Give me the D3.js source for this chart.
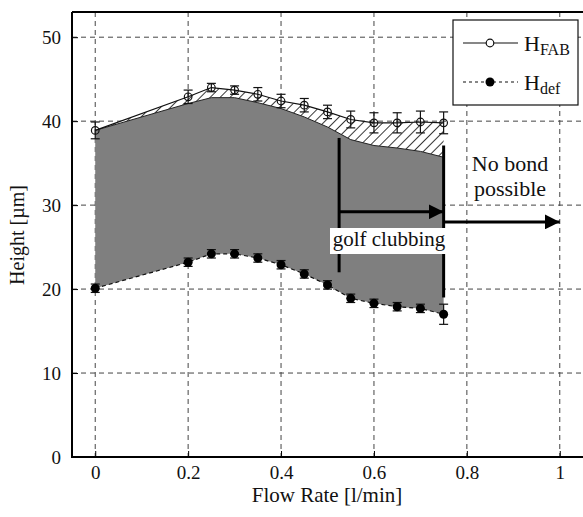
<!DOCTYPE html>
<html><head><meta charset="utf-8">
<script src="https://cdn.jsdelivr.net/npm/d3@7"></script>
<style>body{margin:0;background:#fff}svg{display:block}</style>
</head><body><svg id="c" width="583" height="517" style="font-family:'Liberation Serif','Times New Roman',Times,'DejaVu Serif',serif"></svg>
<script>
const flow = [0, 0.2, 0.25, 0.3, 0.35, 0.4, 0.45, 0.5, 0.55, 0.6, 0.65, 0.7, 0.75];
const hFab = [38.9, 42.9, 44.0, 43.7, 43.2, 42.4, 41.9, 41.1, 40.2, 39.8, 39.8, 39.9, 39.8];
const hFabErr = [1.0, 0.8, 0.5, 0.5, 0.8, 0.8, 0.8, 0.8, 1.0, 1.2, 1.2, 1.3, 1.3];
const hDef = [20.1, 23.2, 24.2, 24.2, 23.7, 22.9, 21.8, 20.5, 18.9, 18.3, 17.9, 17.7, 17.0];
const hDefErr = [0.5, 0.5, 0.5, 0.5, 0.5, 0.5, 0.5, 0.5, 0.5, 0.5, 0.5, 0.5, 1.2];
const grayTop = [38.9, 42.1, 42.8, 42.8, 42.2, 41.5, 40.5, 39.3, 37.8, 37.1, 36.8, 36.4, 35.7];
const xTicks = [0, 0.2, 0.4, 0.6, 0.8, 1];
const xTickLabels = ["0", "0.2", "0.4", "0.6", "0.8", "1"];
const yTicks = [0, 10, 20, 30, 40, 50];
const clubX = [0.525, 0.75];
const clubRange = [[38, 22], [37.1, 19]];
const arrowClub = {x0: 0.525, x1: 0.75, y: 29.2};
const arrowNoBond = {x0: 0.75, x1: 1.0, y: 28.0};

const FONT = "'Liberation Serif','Times New Roman',Times,'DejaVu Serif',serif";
const svg = d3.select("#c");
const L = 72, R = 583, T = 12, B = 457;
const x = d3.scaleLinear().domain([-0.05, 1.05]).range([L, R]);
const y = d3.scaleLinear().domain([0, 53]).range([B, T]);

const defs = svg.append("defs");
const pat = defs.append("pattern").attr("id","hatch").attr("patternUnits","userSpaceOnUse")
  .attr("width",7).attr("height",7).attr("patternTransform","rotate(45)");
pat.append("rect").attr("width",7).attr("height",7).attr("fill","#fff");
pat.append("line").attr("x1",0).attr("y1",0).attr("x2",0).attr("y2",7).attr("stroke","#222").attr("stroke-width",1.8);
defs.append("marker").attr("id","arr").attr("viewBox","0 0 10 10").attr("refX",10).attr("refY",5)
  .attr("markerWidth",5).attr("markerHeight",5).attr("markerUnits","strokeWidth").attr("orient","auto")
  .append("path").attr("d","M0,0L10,5L0,10Z").attr("fill","#000");

const pts = flow.map((f,i)=>({f, fab:hFab[i], def:hDef[i], gt:grayTop[i], fe:hFabErr[i], de:hDefErr[i]}));

// grid
const g = svg.append("g").attr("stroke","#444").attr("stroke-width",1).attr("stroke-dasharray","5,4");
g.selectAll(".gx").data(xTicks).join("line").attr("x1",d=>x(d)).attr("x2",d=>x(d)).attr("y1",T).attr("y2",B);
g.selectAll(".gy").data(yTicks.filter(d=>d>0)).join("line").attr("y1",d=>y(d)).attr("y2",d=>y(d)).attr("x1",L).attr("x2",R);

// fills
svg.append("path").datum(pts).attr("fill","url(#hatch)")
  .attr("d", d3.area().x(d=>x(d.f)).y0(d=>y(d.gt)).y1(d=>y(d.fab)));
svg.append("path").datum(pts).attr("fill","#7f7f7f")
  .attr("d", d3.area().x(d=>x(d.f)).y0(d=>y(d.def)).y1(d=>y(d.gt)));
svg.append("path").datum(pts).attr("fill","none").attr("stroke","#222").attr("stroke-width",1)
  .attr("d", d3.line().x(d=>x(d.f)).y(d=>y(d.gt)));

// frame
svg.append("path").attr("d",`M${L},${T}H${R}M${L},${T}V${B}H${R}`).attr("fill","none").attr("stroke","#000").attr("stroke-width",2);

// axes labels
const xa = svg.append("g").attr("transform",`translate(0,${B})`)
  .call(d3.axisBottom(x).tickValues(xTicks).tickFormat((d,i)=>xTickLabels[i]).tickSize(-6).tickPadding(9));
xa.attr("font-family",FONT);
xa.select(".domain").remove();
xa.selectAll("line").attr("stroke","#000");
xa.selectAll("text").attr("font-size",19).attr("fill","#111");
const ya = svg.append("g").attr("transform",`translate(${L},0)`)
  .call(d3.axisLeft(y).tickValues(yTicks).tickSize(-6).tickPadding(11));
ya.attr("font-family",FONT);
ya.select(".domain").remove();
ya.selectAll("line").attr("stroke","#000");
ya.selectAll("text").attr("font-size",19).attr("fill","#111");

svg.append("text").attr("x",327).attr("y",502).attr("text-anchor","middle").attr("font-size",21).attr("fill","#111").text("Flow Rate [l/min]");
svg.append("text").attr("transform","translate(24,235) rotate(-90)").attr("text-anchor","middle").attr("font-size",20).attr("fill","#111").text("Height [µm]");

// H_FAB line + error bars + markers
svg.append("path").datum(pts).attr("fill","none").attr("stroke","#111").attr("stroke-width",1.2)
  .attr("d", d3.line().x(d=>x(d.f)).y(d=>y(d.fab)));
const eb = (key, ek) => {
  const gg = svg.append("g").attr("stroke","#111").attr("stroke-width",1.2);
  gg.selectAll("line.v").data(pts).join("line").attr("x1",d=>x(d.f)).attr("x2",d=>x(d.f))
    .attr("y1",d=>y(d[key]-d[ek])).attr("y2",d=>y(d[key]+d[ek]));
  gg.selectAll("line.t").data(pts).join("line").attr("x1",d=>x(d.f)-4.5).attr("x2",d=>x(d.f)+4.5)
    .attr("y1",d=>y(d[key]+d[ek])).attr("y2",d=>y(d[key]+d[ek]));
  gg.selectAll("line.b").data(pts).join("line").attr("x1",d=>x(d.f)-4.5).attr("x2",d=>x(d.f)+4.5)
    .attr("y1",d=>y(d[key]-d[ek])).attr("y2",d=>y(d[key]-d[ek]));
};
eb("fab","fe");
svg.append("g").selectAll("circle").data(pts).join("circle").attr("cx",d=>x(d.f)).attr("cy",d=>y(d.fab))
  .attr("r",3.8).attr("fill","none").attr("stroke","#111").attr("stroke-width",1.2);

// H_def
svg.append("path").datum(pts).attr("fill","none").attr("stroke","#111").attr("stroke-width",1.2).attr("stroke-dasharray","4,3")
  .attr("d", d3.line().x(d=>x(d.f)).y(d=>y(d.def)));
eb("def","de");
svg.append("g").selectAll("circle").data(pts).join("circle").attr("cx",d=>x(d.f)).attr("cy",d=>y(d.def))
  .attr("r",4.5).attr("fill","#000");

// golf clubbing lines
svg.append("g").selectAll("line").data(clubX).join("line").attr("x1",d=>x(d)).attr("x2",d=>x(d))
  .attr("y1",(d,i)=>y(clubRange[i][0])).attr("y2",(d,i)=>y(clubRange[i][1])).attr("stroke","#000").attr("stroke-width",3);
svg.append("line").attr("x1",x(arrowClub.x0)).attr("x2",x(arrowClub.x1)).attr("y1",y(arrowClub.y)).attr("y2",y(arrowClub.y))
  .attr("stroke","#000").attr("stroke-width",3).attr("marker-end","url(#arr)");
svg.append("line").attr("x1",x(arrowNoBond.x0)).attr("x2",x(arrowNoBond.x1)).attr("y1",y(arrowNoBond.y)).attr("y2",y(arrowNoBond.y))
  .attr("stroke","#000").attr("stroke-width",3).attr("marker-end","url(#arr)");
svg.append("rect").attr("x",330).attr("y",228).attr("width",118).attr("height",26).attr("fill","#fff");
svg.append("text").attr("x",389).attr("y",246).attr("text-anchor","middle").attr("font-size",21).attr("fill","#111").text("golf clubbing");
svg.append("text").attr("x",510).attr("y",171).attr("text-anchor","middle").attr("font-size",22).attr("fill","#111").text("No bond");
svg.append("text").attr("x",510).attr("y",196).attr("text-anchor","middle").attr("font-size",22).attr("fill","#111").text("possible");

// legend
const lg = svg.append("g");
lg.append("rect").attr("x",453).attr("y",20).attr("width",125).attr("height",85).attr("fill","#fff").attr("stroke","#111").attr("stroke-width",1.2);
lg.append("line").attr("x1",463).attr("x2",518).attr("y1",43).attr("y2",43).attr("stroke","#111").attr("stroke-width",1.2);
lg.append("circle").attr("cx",490).attr("cy",43).attr("r",3.8).attr("fill","#fff").attr("stroke","#111").attr("stroke-width",1.2);
lg.append("line").attr("x1",463).attr("x2",518).attr("y1",82).attr("y2",82).attr("stroke","#111").attr("stroke-width",1.2).attr("stroke-dasharray","3,3");
lg.append("circle").attr("cx",490).attr("cy",82).attr("r",4.5).attr("fill","#000");
const t1 = lg.append("text").attr("x",524).attr("y",51).attr("font-size",22).attr("fill","#111");
t1.append("tspan").text("H");
t1.append("tspan").attr("font-size",16).attr("dy",4).text("FAB");
const t2 = lg.append("text").attr("x",524).attr("y",90).attr("font-size",22).attr("fill","#111");
t2.append("tspan").text("H");
t2.append("tspan").attr("font-size",16).attr("dy",4).text("def");
</script></body></html>
